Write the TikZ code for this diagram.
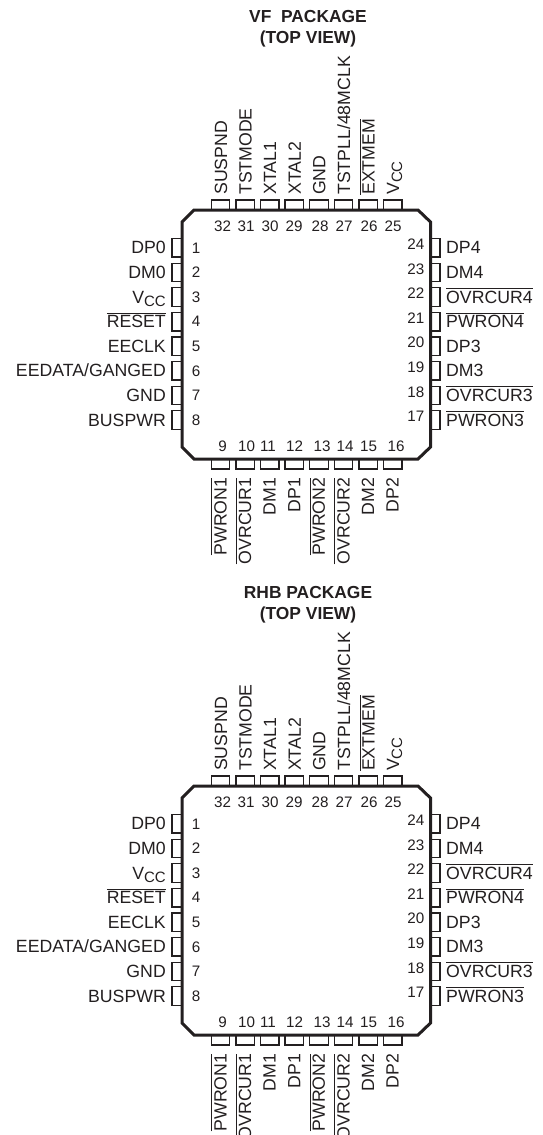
\documentclass[tikz,border=0pt]{standalone}
\usepackage{fontspec}
\setmainfont{Liberation Sans}
\usepackage{xcolor}
\usepackage{tikz}
\usetikzlibrary{positioning}

\definecolor{inkdark}{HTML}{231F20}

% overbar for active low pins, subscript for the supply pin
\newcommand{\lowpin}[1]{\sbox0{#1}\rlap{\rule[14.2pt]{\wd0}{0.9pt}}#1}
\newcommand{\vccpin}{V\raisebox{-3pt}{\fontsize{15}{15}\selectfont CC}}

\tikzset{
	pinbox/.style   = {draw=inkdark, line width=1.3pt, fill=white, inner sep=0pt, outer sep=0pt},
	hpin/.style     = {pinbox, minimum width=10pt, minimum height=18.5pt},
	vpin/.style     = {pinbox, minimum width=18.5pt, minimum height=10pt},
	pinlabel/.style = {text=inkdark, inner sep=0pt, font=\fontsize{17.7}{19}\selectfont},
	pinnum/.style   = {text=inkdark, inner sep=0pt, font=\fontsize{15.2}{16}\selectfont},
	heading/.style  = {text=inkdark, inner sep=0pt, anchor=base, font=\bfseries\fontsize{17.4}{18}\selectfont},
	chip/.style     = {draw=inkdark, line width=3pt, line join=miter},
}

% #1 = title, #2 = vertical shift, #3 = prefix of the node names
\newcommand{\packageview}[3]{
	\begin{scope}[yshift=#2, name prefix=#3]
		
		\node[heading] (Title) at (308,22) {#1};
		\node[heading] (View)  at (308,43.5) {(TOP VIEW)};
		
		% left side: pins 1 to 8
		\foreach \n/\name [count=\i from 0] in {1/DP0, 2/DM0, 3/\vccpin, 4/\lowpin{RESET}, 5/EECLK, 6/{EEDATA/GANGED}, 7/GND, 8/BUSPWR}{
			\pgfmathsetmacro{\py}{247.8+24.6*\i}
			\node[hpin] (P\n) at (177,\py) {};
			\node[pinnum, anchor=center] (N\n) at (196,\py) {\n};
			\node[pinlabel, anchor=base east] (L\n) at (166,\py+6) {\name};
		}
		
		% bottom side: pins 9 to 16
		\foreach \n/\name/\nx [count=\i from 0] in {9/\lowpin{PWRON1}/222.7, 10/\lowpin{OVRCUR1}/246.7, 11/DM1/268, 12/DP1/294.5,
			13/\lowpin{PWRON2}/322, 14/\lowpin{OVRCUR2}/345, 15/DM2/368.5, 16/DP2/396}{
			\pgfmathsetmacro{\px}{220.5+24.6*\i}
			\node[vpin] (P\n) at (\px,464) {};
			\node[pinnum, anchor=base] (N\n) at (\nx,451) {\n};
			\node[pinlabel, rotate=90, anchor=base east] (L\n) at (\px+6,477.5) {\name};
		}
		
		% right side: pins 17 to 24
		\foreach \n/\name [count=\i from 0] in {17/\lowpin{PWRON3}, 18/\lowpin{OVRCUR3}, 19/DM3, 20/DP3, 21/\lowpin{PWRON4}, 22/\lowpin{OVRCUR4}, 23/DM4, 24/DP4}{
			\pgfmathsetmacro{\py}{420-24.6*\i}
			\node[hpin] (P\n) at (435,\py) {};
			\node[pinnum, anchor=east] (N\n) at (424.5,\py-3.5) {\n};
			\node[pinlabel, anchor=base west] (L\n) at (446,\py+6) {\name};
		}
		
		% top side: pins 25 to 32
		\foreach \n/\name/\nx [count=\i from 0] in {25/\vccpin/393, 26/\lowpin{EXTMEM}/369, 27/{TSTPLL/48MCLK}/344, 28/GND/320,
			29/XTAL2/294, 30/XTAL1/270, 31/TSTMODE/246, 32/SUSPND/222.5}{
			\pgfmathsetmacro{\px}{392.7-24.6*\i}
			\node[vpin] (P\n) at (\px,205) {};
			\node[pinnum, anchor=base] (N\n) at (\nx,231) {\n};
			\node[pinlabel, rotate=90, anchor=base west] (L\n) at (\px+6.5,195) {\name};
		}
		
		% package outline with cut corners
		\draw[chip] (194,210) -- (418,210) -- (430.5,222) -- (430.5,447) -- (418,459)
			-- (194,459) -- (182,447) -- (182,222) -- cycle;
		
	\end{scope}
}

\begin{document}
\begin{tikzpicture}[x=1pt, y=-1pt]
	
	\path[use as bounding box, clip] (0,0) rectangle (542,1135);
	
	\packageview{VF\ \ PACKAGE}{0pt}{vf-}
	\packageview{RHB PACKAGE}{-576pt}{rhb-}
	
\end{tikzpicture}
\end{document}
